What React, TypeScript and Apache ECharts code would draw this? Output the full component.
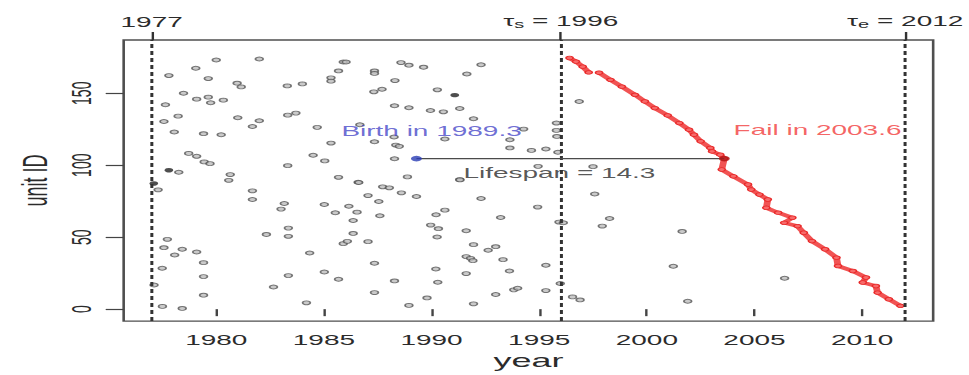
import React, { useEffect, useRef } from "react";
import * as echarts from "echarts";

// ---- data ----
const xTickValues = [1980, 1985, 1990, 1995, 2000, 2005, 2010];
const yTickValues = [0, 50, 100, 150];
const tauYears = [1977, 1996, 2012];
const tauSubscripts = ["", "s", "e"];

const birthYear = 1989.3;
const failYear = 2003.6;
const lifespanUnitId = 104.6;

const annotationTexts = ["Birth in 1989.3", "Lifespan = 14.3", "Fail in 2003.6"];
const annotationAnchors = [
  [1990.0, 123.6],
  [1995.94, 94.7],
  [2007.93, 124.0],
];

const grayUnits: number[][] = [
  [1980.0, 173.1], [1982.0, 173.8], [1979.05, 167.4], [1977.8, 162.3], [1979.63, 160.2],
  [1980.97, 157.0], [1981.16, 154.4], [1983.3, 155.1], [1984.0, 156.5], [1985.33, 160.7],
  [1985.33, 158.4], [1985.68, 165.5], [1985.9, 171.7], [1978.48, 150.0], [1979.09, 145.9],
  [1979.63, 147.3], [1979.74, 143.4], [1980.33, 145.2], [1977.64, 142.0], [1978.23, 134.1],
  [1977.57, 130.4], [1978.05, 123.1], [1979.41, 121.9], [1980.23, 121.2], [1981.0, 133.0],
  [1981.68, 126.9], [1982.0, 130.9], [1983.32, 134.8], [1983.7, 136.2], [1984.69, 126.3],
  [1985.33, 115.4], [1978.72, 108.2], [1979.09, 106.2], [1979.44, 102.3], [1979.71, 101.1],
  [1978.26, 95.1], [1980.65, 93.5], [1980.58, 89.5], [1983.32, 99.7], [1984.5, 106.9],
  [1985.04, 103.0], [1985.68, 91.6],
  [1986.03, 171.7], [1988.58, 171.3], [1988.95, 169.5], [1989.63, 168.1], [1992.3, 169.8],
  [1987.35, 165.5], [1987.35, 163.8], [1991.64, 163.4], [1988.3, 158.8], [1987.32, 151.0],
  [1987.7, 152.8], [1990.27, 152.4], [1988.28, 141.3], [1988.95, 139.9], [1989.95, 138.0],
  [1990.55, 137.1], [1991.31, 139.4], [1991.95, 132.3], [1986.67, 128.1], [1994.28, 125.1],
  [1993.64, 117.7], [1993.64, 112.0], [1994.64, 110.3], [1995.31, 111.3], [1995.8, 129.3],
  [1995.8, 124.2], [1995.82, 120.0], [1995.87, 109.0], [1987.35, 116.3], [1988.26, 119.6],
  [1988.34, 114.0], [1988.5, 113.1], [1990.62, 118.2], [1988.28, 104.5], [1988.88, 91.9],
  [1986.59, 88.2], [1994.95, 99.2], [1991.31, 90.0], [1996.86, 144.3],
  [1977.3, 82.9], [1981.68, 82.2], [1981.68, 76.2], [1983.16, 73.4], [1983.01, 69.5],
  [1985.02, 72.7], [1985.53, 67.0], [1983.35, 56.3], [1983.35, 50.6], [1982.33, 51.9],
  [1977.73, 48.5], [1977.57, 42.7], [1978.42, 41.6], [1978.07, 37.6], [1979.09, 39.7],
  [1979.41, 32.3], [1977.49, 28.4], [1979.41, 22.6], [1977.11, 16.8], [1979.41, 9.7],
  [1977.5, 1.9], [1978.42, 0.5], [1984.34, 39.0], [1983.35, 23.3], [1982.66, 15.4],
  [1984.19, 4.4], [1985.02, 25.8], [1985.68, 20.8], [1985.9, 45.5],
  [1986.62, 88.0], [1987.73, 85.0], [1988.04, 84.3], [1988.6, 80.8], [1989.3, 78.3],
  [1987.05, 78.9], [1987.55, 74.8], [1986.16, 71.5], [1986.54, 67.4], [1987.6, 64.9],
  [1986.36, 61.6], [1986.36, 52.6], [1986.09, 47.1], [1987.05, 46.9], [1987.35, 31.9],
  [1987.35, 11.5], [1988.28, 19.6], [1988.95, 2.6], [1989.79, 7.8], [1990.21, 65.6],
  [1990.62, 68.8], [1989.96, 58.4], [1990.32, 55.9], [1990.26, 50.1], [1990.2, 27.9],
  [1990.29, 18.7], [1991.32, 89.8], [1992.3, 76.9], [1991.61, 54.5], [1991.95, 44.8],
  [1992.63, 40.9], [1992.98, 43.4], [1991.61, 36.5], [1991.81, 35.3], [1991.92, 33.7],
  [1993.21, 63.7], [1993.32, 34.4], [1993.62, 26.5], [1991.61, 24.7], [1992.98, 10.2],
  [1991.95, 3.7], [1993.82, 13.4], [1994.0, 14.5], [1994.93, 70.9], [1995.31, 30.5],
  [1995.31, 12.9], [1995.92, 60.5], [1996.12, 60.0], [1995.98, 17.8],
  [1997.58, 80.0], [1997.93, 57.7], [1998.27, 63.0], [1996.55, 8.5], [1996.9, 6.4],
  [2001.64, 54.0], [2001.23, 29.8], [2001.9, 5.5], [2006.4, 21.5], [1997.5, 99.0],
];

const darkUnits: number[][] = [
  [1977.1, 87.3], [1977.8, 96.5], [1991.08, 148.7],
];

const failCurveEarly: number[][] = [
  [1996.41, 174.5], [1996.71, 172.0], [1997.02, 168.5], [1997.3, 164.5],
];

const failCurveLate: number[][] = [
  [1997.78, 164.3], [1998.31, 159.3], [1998.84, 154.6], [1999.45, 148.9], [1999.91, 144.3],
  [2000.37, 139.7], [2000.97, 134.6], [2001.51, 129.3], [2001.96, 124.7], [2002.19, 121.2],
  [2002.5, 116.6], [2002.95, 112.0], [2003.03, 109.6], [2003.41, 107.3], [2003.6, 104.6],
  [2003.48, 97.0], [2004.02, 92.3], [2004.7, 86.6], [2004.85, 83.1], [2005.23, 79.6],
  [2005.62, 76.2], [2005.55, 70.4], [2006.1, 67.0], [2006.76, 63.5], [2006.38, 60.0],
  [2007.0, 57.7], [2007.29, 53.1], [2007.67, 47.3], [2008.28, 41.6], [2008.81, 35.8],
  [2008.88, 30.0], [2009.57, 26.5], [2010.18, 22.0], [2010.03, 18.5], [2010.64, 16.1],
  [2010.72, 11.5], [2011.24, 6.9], [2011.78, 2.3],
];

// ---- layout ----
const FONT = "'Liberation Sans', Arial, Helvetica, sans-serif";
const TEXT = "#2b2b2b";
const PAGE_W = 969;
const BASE_W = 485; // drawn narrower, then stretched horizontally like the reference
const H = 375;

export default function App() {
  const ref = useRef<HTMLDivElement>(null);

  useEffect(() => {
    if (!ref.current) return;
    const chart = echarts.init(ref.current, undefined, { renderer: "svg" });

    const redStyle = {
      type: "line",
      xAxisIndex: 0,
      yAxisIndex: 0,
      symbol: "circle",
      symbolSize: 3.6,
      showSymbol: true,
      lineStyle: { color: "#f04040", width: 3.4, opacity: 0.9 },
      itemStyle: { color: "#f76a6a", borderColor: "#e82828", borderWidth: 0.8 },
      z: 4,
    };

    chart.setOption({
      animation: false,
      textStyle: { fontFamily: FONT },
      grid: {
        left: 57.5,
        right: 15.5,
        top: 40,
        bottom: 53,
        show: true,
        borderColor: "#4f4f4f",
        borderWidth: 1.3,
        backgroundColor: "transparent",
      },
      xAxis: [
        {
          type: "value",
          position: "bottom",
          min: 1975.7,
          max: 2013.3,
          name: "year",
          nameLocation: "middle",
          nameGap: 30,
          nameTextStyle: { fontSize: 18, color: TEXT, fontFamily: FONT },
          axisLine: { show: false },
          splitLine: { show: false },
          axisTick: {
            show: true,
            length: 7,
            customValues: xTickValues,
            lineStyle: { color: "#444", width: 1.2 },
          },
          axisLabel: {
            customValues: xTickValues,
            formatter: (v: number) => String(Math.round(v)),
            margin: 12,
            fontSize: 14,
            color: TEXT,
            fontFamily: FONT,
          },
        },
        {
          type: "value",
          position: "top",
          min: 1975.7,
          max: 2013.3,
          axisLine: { show: false },
          splitLine: { show: false },
          axisTick: {
            show: true,
            length: 8,
            customValues: tauYears,
            lineStyle: { color: "#333", width: 1.2 },
          },
          axisLabel: {
            customValues: tauYears,
            margin: 11,
            fontSize: 14,
            color: TEXT,
            fontFamily: FONT,
            formatter: (v: number) => {
              const i = tauYears.indexOf(Math.round(v));
              const sub = i >= 0 ? tauSubscripts[i] : "";
              if (!sub) return String(Math.round(v));
              return `{t|τ}{s|${sub}}{t| = ${Math.round(v)}}`;
            },
            rich: {
              t: { fontSize: 14, lineHeight: 16, color: TEXT, fontFamily: FONT },
              s: { fontSize: 10, lineHeight: 10, padding: [8, 0, 0, 0], color: TEXT, fontFamily: FONT },
            },
          },
        },
      ],
      yAxis: {
        type: "value",
        min: -8.3,
        max: 187,
        name: "unit ID",
        nameLocation: "middle",
        nameGap: 32,
        nameTextStyle: { fontSize: 18, color: TEXT, fontFamily: FONT },
        axisLine: { show: false },
        splitLine: { show: false },
        axisTick: {
          show: true,
          length: 9,
          customValues: yTickValues,
          lineStyle: { color: "#444", width: 1.2 },
        },
        axisLabel: {
          customValues: yTickValues,
          formatter: (v: number) => String(Math.round(v)),
          rotate: 90,
          margin: 14,
          fontSize: 14,
          color: TEXT,
          fontFamily: FONT,
        },
      },
      series: [
        {
          type: "scatter",
          name: "units",
          data: grayUnits,
          symbol: "circle",
          symbolSize: 3.9,
          itemStyle: { color: "#bdbdbd", borderColor: "#555", borderWidth: 0.9 },
          z: 2,
          markLine: {
            silent: true,
            symbol: ["none", "none"],
            label: { show: false },
            lineStyle: { type: [4, 3], color: "#333", width: 1.5 },
            data: tauYears.map((v) => ({ xAxis: v })),
          },
        },
        {
          type: "scatter",
          name: "dark",
          data: darkUnits,
          symbolSize: 4.4,
          itemStyle: { color: "#222" },
          z: 3,
        },
        { ...redStyle, name: "failEarly", data: failCurveEarly },
        { ...redStyle, name: "failLate", data: failCurveLate },
        {
          type: "line",
          name: "lifespan",
          data: [
            [birthYear, lifespanUnitId],
            [failYear, lifespanUnitId],
          ],
          symbol: "none",
          lineStyle: { color: "#4a4a4a", width: 1.4 },
          z: 5,
        },
        {
          type: "scatter",
          name: "birth",
          data: [[birthYear, lifespanUnitId]],
          symbolSize: 5.5,
          itemStyle: { color: "#2a3db5" },
          z: 6,
        },
        {
          type: "scatter",
          name: "fail",
          data: [[failYear, lifespanUnitId]],
          symbolSize: 5.5,
          itemStyle: { color: "#b01515" },
          z: 6,
        },
        {
          type: "scatter",
          name: "annotations",
          symbolSize: 0,
          silent: true,
          z: 7,
          data: annotationTexts.map((t, i) => ({
            name: t,
            value: annotationAnchors[i],
            label: {
              color: i === 0 ? "#4848c8" : i === 2 ? "#f23c3c" : TEXT,
            },
          })),
          label: {
            show: true,
            position: "inside",
            formatter: "{b}",
            fontSize: 14,
            fontFamily: FONT,
          },
        },
      ],
    });

    return () => chart.dispose();
  }, []);

  return (
    <div
      ref={ref}
      style={{
        position: "fixed",
        left: 0,
        top: 0,
        width: BASE_W,
        height: H,
        background: "#fff",
        transformOrigin: "0 0",
        transform: `scaleX(${PAGE_W / BASE_W})`,
      }}
    />
  );
}
